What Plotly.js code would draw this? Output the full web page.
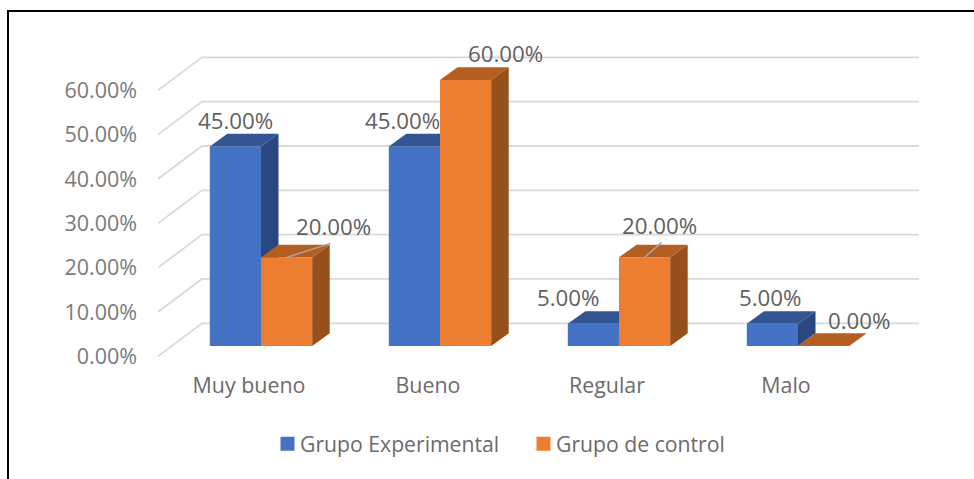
<!DOCTYPE html>
<html><head><meta charset="utf-8">
<script src="https://cdn.plot.ly/plotly-3.0.1.min.js"></script>
<style>html,body{margin:0;padding:0;background:#fff;overflow:hidden}</style>
</head><body><div id="chart" style="width:974px;height:479px"></div>
<script>
const categories = ['Muy bueno', 'Bueno', 'Regular', 'Malo'];
const seriesNames = ['Grupo Experimental', 'Grupo de control'];
const experimental = [45, 45, 5, 5];
const control = [20, 60, 20, 0];
const yTicks = [0, 10, 20, 30, 40, 50, 60];

// page geometry (pixels)
const W = 974, H = 479, L = 158, WALL = 202, R = 919, T = 40, B = 370;
const catStart = 261, catStep = 179, pxPerPct = 4.433;
const frontZero = 346, wallZero = 323.3;
const barW = 51.2 / catStep, depthX = 17.5 / catStep, depthY = 12.7 / pxPerPct;
const slantY = 33 / pxPerPct;

const xIdx = categories.map((_, i) => i);
const xAt = p => (p - catStart) / catStep;
const xRange = [xAt(L), xAt(R)];
const rangeFor = z => [(z - B) / pxPerPct, (z - T) / pxPerPct];
const fmt = v => v.toFixed(2) + '%';

const blue = {front:'#4472C4', top:'#335593', side:'#2A4780'};
const orange = {front:'#ED7D31', top:'#B45E22', side:'#96501C'};

function sidePoly(vals, off){
  const x=[], y=[];
  vals.forEach((v,i)=>{ const r=i+off+barW;
    x.push(r, r+depthX, r+depthX, r, r, null);
    y.push(0, depthY, v+depthY, v, 0, null); });
  return {x,y};
}
function topPoly(vals, off){
  const x=[], y=[];
  vals.forEach((v,i)=>{ const l=i+off, r=l+barW;
    x.push(l, l+depthX, r+depthX, r, l, null);
    y.push(v, v+depthY, v+depthY, v, v, null); });
  return {x,y};
}
const poly = (p, color, ya) => ({type:'scatter', mode:'lines', x:p.x, y:p.y, yaxis:ya, fill:'toself',
  fillcolor:color, line:{width:0, color:color}, showlegend:false, hoverinfo:'skip'});

function seriesTraces(name, vals, off, col, ya){
  return [
    {type:'bar', name:name, x:xIdx, y:vals, yaxis:ya, width:barW, offset:off,
     marker:{color:col.front, line:{width:0}}},
    poly(sidePoly(vals, off), col.side, ya),
    poly(topPoly(vals, off), col.top, ya)
  ];
}

// wall gridlines with their slanted floor stubs on the left
const sx=[], sy=[];
yTicks.forEach(v=>{ sx.push(xAt(L), xAt(WALL), xAt(R), null); sy.push(v-slantY, v, v, null); });
const grid = {type:'scatter', mode:'lines', x:sx, y:sy, yaxis:'y',
  line:{color:'#d9d9d9', width:1.8}, showlegend:false, hoverinfo:'skip'};

// leader lines (pixel offsets from the top of each control bar)
const leaders = [{i:0, dx:44, dy:-14}, {i:2, dx:17, dy:-15}];
const lx=[], ly=[];
leaders.forEach(o=>{ const c=o.i+barW/2;
  lx.push(c, c+o.dx/catStep, null); ly.push(control[o.i], control[o.i]-o.dy/pxPerPct, null); });
const leaderTrace = {type:'scatter', mode:'lines', x:lx, y:ly, yaxis:'y3',
  line:{color:'#a6a6a6', width:1.5}, showlegend:false, hoverinfo:'skip'};

const data = [grid,
  ...seriesTraces(seriesNames[0], experimental, -barW, blue, 'y2'),
  ...seriesTraces(seriesNames[1], control, 0, orange, 'y3'),
  leaderTrace];

// data label placement offsets in pixels
const expDx = [0, -12, -25.3, -2], expDy = [26, 26, 26, 26];
const ctlDx = [46.5, 40, 15, 36], ctlDy = [31, 27, 32, 26];
const labelFont = {family:'Open Sans, sans-serif', size:22.3, color:'#5f5f5f'};
const annos = [];
experimental.forEach((v,i)=>annos.push({x:i-barW/2, y:v, xref:'x', yref:'y2', text:fmt(v), showarrow:false,
  xshift:expDx[i], yshift:expDy[i], font:labelFont, xanchor:'center', yanchor:'middle'}));
control.forEach((v,i)=>annos.push({x:i+barW/2, y:v, xref:'x', yref:'y3', text:fmt(v), showarrow:false,
  xshift:ctlDx[i], yshift:ctlDy[i], font:labelFont, xanchor:'center', yanchor:'middle'}));

const px = p => (p - L) / (R - L), py = p => (B - p) / (B - T);
const frame = [
  {type:'line', xref:'paper', yref:'paper', x0:px(7), x1:px(W), y0:py(11), y1:py(11), line:{color:'#000', width:2}},
  {type:'line', xref:'paper', yref:'paper', x0:px(8), x1:px(8), y0:py(10), y1:py(H), line:{color:'#000', width:2}}
];

const hiddenY = z => ({overlaying:'y', range:rangeFor(z), visible:false, domain:[0,1], fixedrange:true});
const layout = {
  width:W, height:H, margin:{l:L, r:W-R, t:T, b:H-B, pad:0, autoexpand:false},
  paper_bgcolor:'#fff', plot_bgcolor:'rgba(0,0,0,0)', showlegend:true, hovermode:false,
  font:{family:'Open Sans, sans-serif', size:20, color:'#6b6b6b'},
  xaxis:{range:xRange, tickmode:'array', tickvals:xIdx, ticktext:categories, showgrid:false, zeroline:false,
    showline:false, ticks:'', ticklabelshift:-12, ticklabelstandoff:1, fixedrange:true,
    tickfont:{family:'Open Sans, sans-serif', size:21.4, color:'#6b6b6b'}},
  yaxis:{range:rangeFor(wallZero), tickmode:'array', tickvals:yTicks, ticktext:yTicks.map(fmt),
    showgrid:false, zeroline:false, showline:false, ticks:'',
    ticklabelstandoff:20, ticklabelshift:33, fixedrange:true,
    tickfont:{family:'Open Sans, sans-serif', size:21.5, color:'#7a7a7a'}},
  yaxis2:hiddenY(frontZero),
  yaxis3:hiddenY(frontZero),
  legend:{orientation:'h', x:px(260), y:py(444), xanchor:'left', yanchor:'middle', entrywidth:211, entrywidthmode:'pixels',
    itemclick:false, itemdoubleclick:false, font:{family:'Open Sans, sans-serif', size:21.2, color:'#6b6b6b'},
    bgcolor:'rgba(0,0,0,0)'},
  annotations:annos,
  shapes:frame
};
Plotly.newPlot('chart', data, layout, {displayModeBar:false, staticPlot:true}).then(()=>{
  // tighten the gap between swatch and text, as in the reference
  document.querySelectorAll('g.legendsymbols').forEach(g=>{
    g.setAttribute('transform','translate(7.5,0)');
    g.querySelectorAll('path').forEach(p=>{
      if((p.getAttribute('d')||'').indexOf('M6,6')===0) p.setAttribute('d','M7,7H-7V-7H7Z');
    });
  });
});
</script></body></html>
